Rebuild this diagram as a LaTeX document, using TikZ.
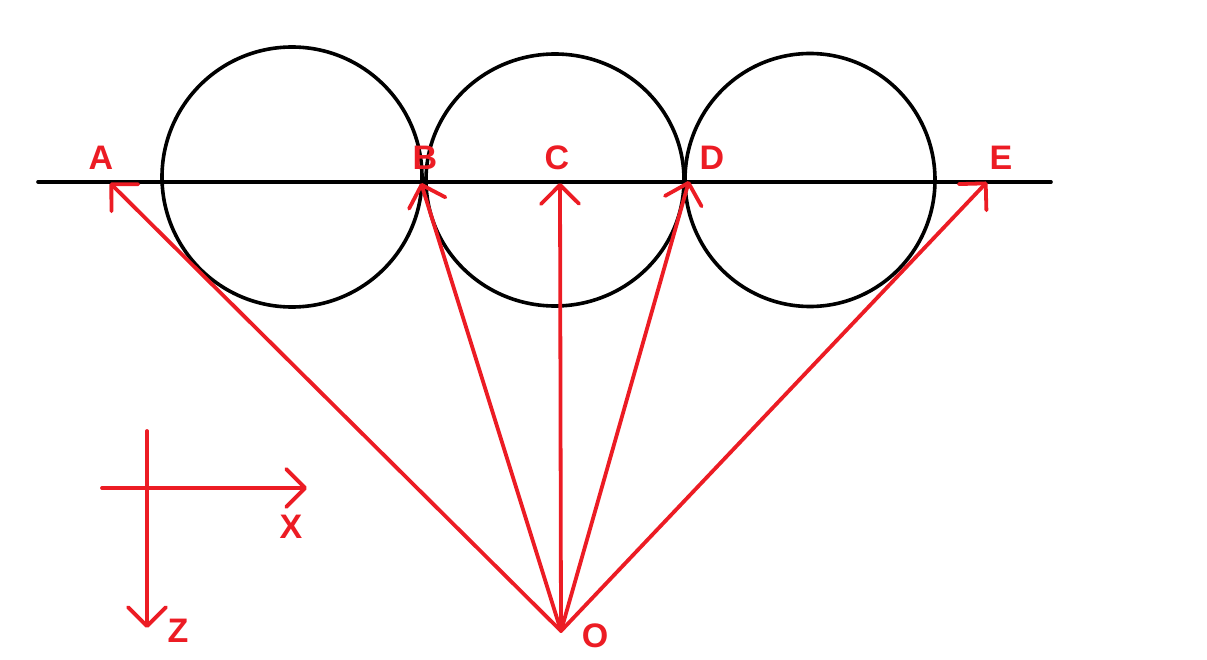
\documentclass[tikz,border=0pt]{standalone}
\usepackage{fontspec}
\setmainfont{Liberation Sans}
\usetikzlibrary{arrows.meta}
\definecolor{myred}{RGB}{236,28,36}
\begin{document}
\begin{tikzpicture}[x=1pt,y=-1pt,
  blk/.style={line width=3.6pt,black},
  vec/.style={line width=3.8pt,myred,line cap=round,-{Straight Barb[length=19pt,width=38pt,line width=3.8pt,round]}},
  lbl/.style={text=myred,font=\fontsize{34}{34}\selectfont\bfseries,inner sep=0pt}]
\useasboundingbox (0,0) rectangle (1207,660);
% base line and circles
\coordinate (L) at (38,182);
\coordinate (R) at (1051,182);
\draw[blk,line cap=round] (L) -- (R);
\draw[blk] (292,177) circle[radius=130];
\draw[blk] (555,180) circle[x radius=129,y radius=126];
\draw[blk] (810,180) circle[x radius=125,y radius=126.5];
% points
\coordinate (A) at (110,183);
\coordinate (B) at (421,183);
\coordinate (C) at (560,183);
\coordinate (D) at (689,181);
\coordinate (E) at (987,182);
\coordinate (O) at (561,631);
\foreach \p in {A,B,C,D,E} \draw[vec] (O) -- (\p);
% labels
\node[lbl] (lA) at (101,158) {A};
\node[lbl] (lB) at (425,158) {B};
\node[lbl] (lC) at (557,158) {C};
\node[lbl] (lD) at (712,158) {D};
\node[lbl] (lE) at (1001,158) {E};
\node[lbl] (lO) at (595,636) {O};
% axes
\coordinate (xs) at (102,488);
\coordinate (xe) at (307,488);
\coordinate (zs) at (147,431);
\coordinate (ze) at (147,628);
\draw[vec] (xs) -- (xe);
\draw[vec] (zs) -- (ze);
\node[lbl] (lX) at (291,527) {X};
\node[lbl] (lZ) at (178,631) {Z};
\end{tikzpicture}
\end{document}
